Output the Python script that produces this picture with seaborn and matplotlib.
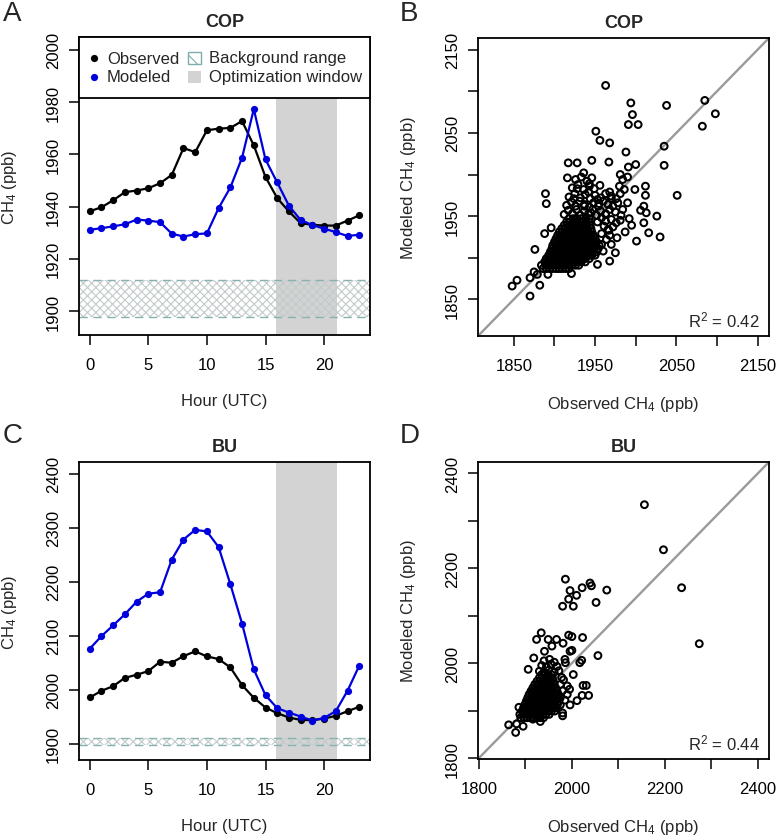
import numpy as np
import matplotlib
matplotlib.use("Agg")
import matplotlib.pyplot as plt
from matplotlib.patches import Rectangle
import seaborn as sns

# diurnal cycles (hour UTC)
hours = list(range(24))
cop_obs = [1938.2, 1939.7, 1942.4, 1945.5, 1946.1, 1947.0, 1948.9, 1952.1, 1962.4, 1960.8,
           1969.2, 1969.8, 1970.1, 1972.7, 1963.4, 1951.3, 1943.2, 1938.1, 1933.6, 1933.0,
           1932.7, 1932.7, 1934.6, 1936.6]
cop_mod = [1931.1, 1931.7, 1932.4, 1933.2, 1935.0, 1934.6, 1934.0, 1929.6, 1928.5, 1929.4,
           1929.7, 1939.4, 1947.3, 1958.7, 1977.3, 1958.0, 1949.2, 1940.3, 1934.8, 1932.9,
           1931.5, 1930.2, 1928.7, 1929.2]
bu_obs = [1985.4, 1997.8, 2006.4, 2021.9, 2027.5, 2034.3, 2051.6, 2049.8, 2062.1, 2070.8,
          2061.5, 2056.6, 2041.1, 2008.3, 1984.8, 1966.8, 1956.3, 1948.3, 1943.9, 1943.3,
          1946.4, 1951.4, 1960.0, 1968.1]
bu_mod = [2075.7, 2099.2, 2119.1, 2139.5, 2163.0, 2177.8, 2180.3, 2241.0, 2278.1, 2296.0,
          2293.0, 2263.9, 2195.2, 2122.2, 2037.4, 1989.7, 1965.6, 1957.5, 1950.1, 1942.7,
          1947.6, 1960.0, 1997.8, 2044.2]
bg_cop = (1897.7, 1912.0)
bg_bu = (1897.5, 1909.5)
opt_window = (15.9, 21.1)

# observed vs modeled, COP (obs, mod): scattered points
cop_pts = [
    (1963, 2107), (1994, 2086), (2085, 2089), (2038, 2083), (2098, 2073), (1996, 2072),
    (1991, 2060), (2003, 2060), (2082, 2058), (1951, 2052), (1956, 2041), (1968, 2038),
    (2035, 2034), (1988, 2027), (1946, 2017), (1967, 2015), (1991, 2009), (2000, 2012),
    (2035, 2011), (1917, 2014), (1928, 2014), (1936, 2002), (1981, 2000), (1984, 1994),
    (1943, 1989), (2012, 1986), (1999, 1982), (2051, 1975), (2012, 1975), (1889, 1977),
    (1890, 1965), (1968, 1979), (1970, 1971), (1981, 1977), (1990, 1966), (2010, 1962),
    (2006, 1957), (2013, 1954), (1984, 1958), (2026, 1950), (1992, 1947), (1981, 1945),
    (1995, 1939), (2010, 1942), (1987, 1931), (2016, 1930), (2030, 1925), (2001, 1920),
    (1977, 1924), (1967, 1933), (1970, 1916), (1975, 1906), (1968, 1896), (1953, 1892),
    (1947, 1907), (1935, 1898), (1921, 1881), (1876, 1910), (1896, 1936), (1888, 1929),
    (1875, 1883), (1870, 1876), (1882, 1867), (1854, 1873), (1848, 1866), (1870, 1854),
    (1879, 1880), (1892, 1880), (1890, 1896), (1906, 1887), (1920, 1922), (1908, 1909),
    (1931, 1939), (1916, 1996), (1924, 1971), (1953, 1970), (1955, 1965), (1963, 1952),
    (1945, 1954), (1937, 1962), (1928, 1983), (1942, 1979),
    (1946, 1903), (1958, 1916), (1960, 1908), (1964, 1922), (1968, 1927), (1958, 1929),
    (1961, 1938), (1966, 1934), (1972, 1937), (1953, 1943), (1958, 1948), (1963, 1944),
    (1970, 1946), (1976, 1942), (1912, 1952), (1917, 1957), (1922, 1953), (1927, 1958),
    (1932, 1951), (1937, 1956), (1942, 1953), (1947, 1958), (1952, 1951), (1957, 1956),
    (1963, 1953), (1968, 1958), (1975, 1955), (1982, 1951), (1915, 1963), (1921, 1967),
    (1926, 1962), (1931, 1968), (1937, 1964), (1943, 1961), (1948, 1966), (1954, 1962),
    (1960, 1968), (1966, 1964), (1972, 1962), (1978, 1966), (1918, 1973), (1925, 1977),
    (1932, 1972), (1938, 1976), (1944, 1971), (1950, 1975), (1957, 1972), (1963, 1977),
    (1970, 1974), (1976, 1971), (1922, 1984), (1929, 1988), (1936, 1982), (1943, 1986),
    (1949, 1983), (1956, 1987), (1980, 1986), (1986, 1982), (1926, 1994), (1933, 1997),
    (1940, 1992), (1946, 1996), (1990, 1997),
]
# COP dense core: modeled value of each row -> observed values in that row
cop_core = {
    1887: [1886, 1890, 1894, 1898, 1902, 1906, 1910, 1914, 1918],
    1891: [1884, 1889, 1893, 1897, 1901, 1905, 1909, 1913, 1917, 1921, 1926, 1930],
    1895: [1888, 1892, 1896, 1900, 1904, 1908, 1912, 1916, 1920, 1924, 1928, 1933, 1938],
    1899: [1890, 1894, 1898, 1902, 1906, 1910, 1914, 1918, 1922, 1926, 1930, 1934, 1938, 1943],
    1903: [1893, 1897, 1901, 1905, 1909, 1913, 1917, 1921, 1925, 1929, 1933, 1937, 1941, 1945, 1950],
    1907: [1895, 1899, 1903, 1907, 1911, 1915, 1919, 1923, 1927, 1931, 1935, 1939, 1943, 1947, 1952],
    1911: [1897, 1901, 1905, 1909, 1913, 1917, 1921, 1925, 1929, 1933, 1937, 1941, 1945, 1949, 1954],
    1915: [1898, 1902, 1906, 1910, 1914, 1918, 1922, 1926, 1930, 1934, 1938, 1942, 1946, 1950, 1955],
    1919: [1900, 1904, 1908, 1912, 1916, 1920, 1924, 1928, 1932, 1936, 1940, 1944, 1948, 1952],
    1923: [1902, 1906, 1910, 1914, 1918, 1922, 1926, 1930, 1934, 1938, 1942, 1946, 1950],
    1927: [1904, 1908, 1912, 1916, 1920, 1924, 1928, 1932, 1936, 1940, 1944, 1948],
    1931: [1906, 1910, 1914, 1918, 1922, 1926, 1930, 1934, 1938, 1942, 1946],
    1935: [1909, 1913, 1917, 1921, 1925, 1929, 1933, 1937, 1941, 1945],
    1939: [1912, 1916, 1920, 1924, 1928, 1932, 1936, 1940, 1944],
    1943: [1915, 1919, 1923, 1927, 1931, 1935, 1939, 1943],
    1947: [1918, 1923, 1928, 1933, 1938, 1943],
}

# observed vs modeled, BU (obs, mod): scattered points
bu_pts = [
    (2156, 2334), (2197, 2239), (2236, 2159), (2274, 2041), (1986, 2177), (1996, 2153),
    (2039, 2169), (2022, 2159), (2042, 2163), (2075, 2154), (2010, 2143), (1993, 2135),
    (2052, 2128), (1980, 2120), (2003, 2120), (1934, 2064), (1924, 2050), (1949, 2050),
    (1967, 2050), (1993, 2059), (2000, 2056), (2023, 2054), (1981, 2042), (1957, 2036),
    (1941, 2025), (1996, 2025), (2000, 2027), (2056, 2016), (1918, 2011), (1906, 1987),
    (2021, 2006), (2017, 2001), (2003, 1976), (1986, 2001), (2024, 1953), (2031, 1953),
    (2036, 1932), (2022, 1932), (2011, 1921), (1996, 1912), (1980, 1895), (1980, 1889),
    (1960, 1911), (1932, 1877), (1916, 1882), (1895, 1867), (1886, 1907), (1864, 1870),
    (1879, 1854), (1881, 1872),
    (1975, 1912), (1985, 1922), (1990, 1934), (1980, 1942), (1995, 1945), (1975, 1955),
    (1990, 1952), (1982, 1965), (1978, 1970), (1930, 1983), (1940, 1980), (1950, 1985),
    (1962, 1981), (1972, 1984), (1935, 1995), (1945, 1992), (1955, 1998), (1968, 1993),
    (1940, 2005), (1952, 2008), (1962, 2002), (1985, 2008),
]
# BU dense core: modeled value of each row -> observed values in that row
bu_core = {
    1885: [1890, 1897, 1904, 1911, 1918, 1925, 1932, 1939],
    1892: [1888, 1895, 1902, 1909, 1916, 1923, 1930, 1937, 1944, 1951],
    1899: [1893, 1900, 1907, 1914, 1921, 1928, 1935, 1942, 1949, 1956, 1963],
    1906: [1896, 1903, 1910, 1917, 1924, 1931, 1938, 1945, 1952, 1959, 1966],
    1913: [1899, 1906, 1913, 1920, 1927, 1934, 1941, 1948, 1955, 1962, 1969],
    1920: [1902, 1909, 1916, 1923, 1930, 1937, 1944, 1951, 1958, 1965, 1972],
    1927: [1905, 1912, 1919, 1926, 1933, 1940, 1947, 1954, 1961, 1968, 1975],
    1934: [1908, 1915, 1922, 1929, 1936, 1943, 1950, 1957, 1964, 1971],
    1941: [1912, 1919, 1926, 1933, 1940, 1947, 1954, 1961, 1968],
    1948: [1916, 1923, 1930, 1937, 1944, 1951, 1958, 1965],
    1955: [1920, 1927, 1934, 1941, 1948, 1955, 1962],
    1962: [1925, 1932, 1939, 1946, 1953, 1960],
    1969: [1930, 1937, 1944, 1951, 1958],
    1976: [1935, 1942, 1949, 1956],
}
r2_cop = "0.42"
r2_bu = "0.44"

blue = "#0000dd"
win_gray = "#d3d3d3"
hatch_col = "#c2caca"
dash_col = "#88b2b2"

sns.set_style("ticks")
plt.rcParams["font.family"] = ["Liberation Sans", "DejaVu Sans"]
plt.rcParams["mathtext.fontset"] = "custom"
plt.rcParams["mathtext.rm"] = "Liberation Sans"
plt.rcParams["mathtext.it"] = "Liberation Sans:italic"
plt.rcParams["hatch.linewidth"] = 0.8
FS = 12

fig = plt.figure(figsize=(7.77, 8.37), dpi=100)
W, H = 777.0, 837.0


def add_ax(left, top, right, bottom):
    return fig.add_axes([left / W, 1 - bottom / H, (right - left) / W, (bottom - top) / H])


def style(ax):
    for sp in ax.spines.values():
        sp.set_linewidth(1.3)
        sp.set_color("black")
        sp.set_visible(True)
    ax.tick_params(axis="both", direction="out", length=7, width=1.1, color="black",
                   labelsize=FS, labelcolor="black")
    ax.tick_params(axis="x", pad=9)
    ax.tick_params(axis="y", pad=6, labelrotation=90)
    for lab in ax.get_yticklabels():
        lab.set_va("center")
    ax.xaxis.set_label_coords(0.5, -58 / 298)
    ax.yaxis.set_label_coords(-59.5 / 291, 0.5)


def diurnal(ax, obs, mod, band, ylim, yticks, title, xlab):
    ax.axvspan(*opt_window, color=win_gray, lw=0, zorder=0)
    ax.axhspan(*band, facecolor="none", edgecolor=hatch_col, hatch="xxxx", lw=0, zorder=1)
    for v in band:
        ax.axhline(v, color=dash_col, lw=1.0, ls=(0, (6, 4)), zorder=1)
    sns.lineplot(x=hours, y=obs, ax=ax, color="black", marker="o", markersize=5.2,
                 markeredgewidth=0, lw=1.6, zorder=3)
    sns.lineplot(x=hours, y=mod, ax=ax, color=blue, marker="o", markersize=5.2,
                 markeredgewidth=0, lw=1.6, zorder=3)
    ax.set_xlim(-0.92, 23.92)
    ax.set_ylim(*ylim)
    ax.set_xticks([0, 5, 10, 15, 20])
    ax.set_yticks(yticks)
    ax.set_title(title, fontweight="bold", fontsize=13, pad=8)
    ax.set_xlabel(xlab, fontsize=FS)
    ax.set_ylabel(r"CH$_\mathrm{4}$ (ppb)", fontsize=FS)
    style(ax)


def scatter_panel(ax, pts, core, lim, ticks, shown, title, r2):
    xs = [p[0] for p in pts]
    ys = [p[1] for p in pts]
    for yv, row in core.items():
        xs += row
        ys += [yv] * len(row)
    ax.plot(lim, lim, color="#9a9a9a", lw=1.7, zorder=1)
    sns.scatterplot(x=xs, y=ys, ax=ax, marker="o", s=24, facecolor="none",
                    edgecolor="black", linewidth=1.45, zorder=2)
    ax.set_xlim(*lim)
    ax.set_ylim(*lim)
    ax.set_xticks(ticks)
    ax.set_yticks(ticks)
    labs = [str(t) if t in shown else "" for t in ticks]
    ax.set_xticklabels(labs)
    ax.set_yticklabels(labs)
    ax.set_title(title, fontweight="bold", fontsize=13, pad=8)
    ax.set_xlabel(r"Observed CH$_\mathrm{4}$ (ppb)", fontsize=FS)
    ax.set_ylabel(r"Modeled CH$_\mathrm{4}$ (ppb)", fontsize=FS)
    ax.text(1 - 9 / 291, 10 / 298, "R$^\mathrm{2}$ = " + r2, transform=ax.transAxes,
            ha="right", va="baseline", fontsize=FS, zorder=5)
    style(ax)


axA = add_ax(79, 38, 370, 336)
axB = add_ax(478, 39, 769, 337)
axC = add_ax(79, 463, 370, 761)
axD = add_ax(478, 463, 769, 760)

diurnal(axA, cop_obs, cop_mod, bg_cop, (1890.8, 2004.9),
        [1900, 1920, 1940, 1960, 1980, 2000], "COP", "Hour (UTC)")
diurnal(axC, bu_obs, bu_mod, bg_bu, (1869.6, 2421.7),
        [1900, 2000, 2100, 2200, 2300, 2400], "BU", "Hour (UTC)")

# legend box across the top of panel A
y0 = (336 - 99.3) / 298
axA.add_patch(Rectangle((0, y0), 1, 1 - y0, transform=axA.transAxes, fc="white",
                        ec="black", lw=1.3, zorder=5, clip_on=False))
r1, r2y = (336 - 59) / 298, (336 - 77.7) / 298
bw, bh = 13.3 / 291, 11.7 / 298
axA.plot([15 / 291], [r1], "o", color="black", ms=5.2, mew=0, transform=axA.transAxes, zorder=6)
axA.plot([15 / 291], [r2y], "o", color=blue, ms=5.2, mew=0, transform=axA.transAxes, zorder=6)
axA.text(28 / 291, r1, "Observed", transform=axA.transAxes, va="center", fontsize=FS, zorder=6)
axA.text(28 / 291, r2y, "Modeled", transform=axA.transAxes, va="center", fontsize=FS, zorder=6)
axA.add_patch(Rectangle((109 / 291, r1 - bh / 2), bw, bh, transform=axA.transAxes,
                        fc="white", ec="#7fadad", hatch="x", lw=1.0, zorder=6))
axA.add_patch(Rectangle((109 / 291, r2y - bh / 2), bw, bh, transform=axA.transAxes,
                        fc=win_gray, ec="none", zorder=6))
axA.text(130 / 291, r1, "Background range", transform=axA.transAxes, va="center",
         fontsize=FS, zorder=6)
axA.text(130 / 291, r2y, "Optimization window", transform=axA.transAxes, va="center",
         fontsize=FS, zorder=6)

scatter_panel(axB, cop_pts, cop_core, (1806, 2164), list(range(1850, 2151, 50)),
              [1850, 1950, 2050, 2150], "COP", r2_cop)
scatter_panel(axD, bu_pts, bu_core, (1798, 2424), list(range(1800, 2401, 100)),
              [1800, 2000, 2200, 2400], "BU", r2_bu)

for letter, xp, yp in [("A", 3, 21), ("B", 400, 21), ("C", 3, 443), ("D", 400, 443)]:
    fig.text(xp / W, 1 - yp / H, letter, fontsize=20, ha="left", va="baseline")

fig.savefig("out.png", dpi=100)
